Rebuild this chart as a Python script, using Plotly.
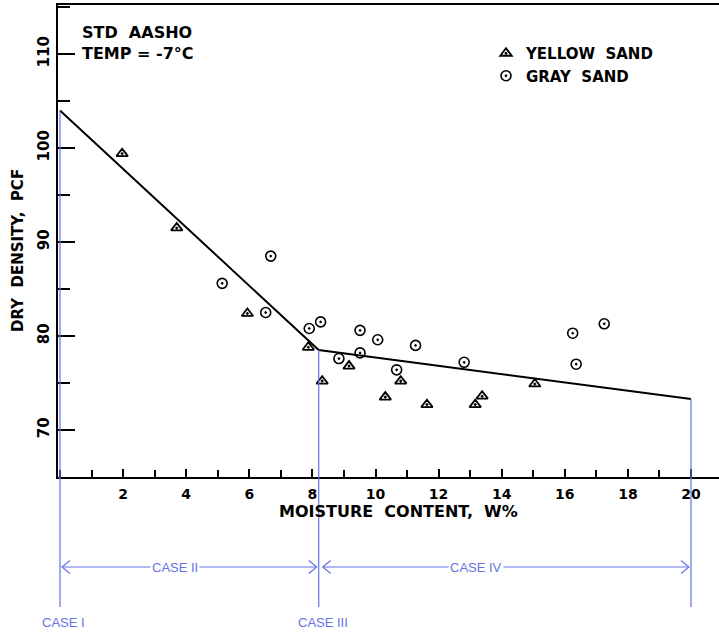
import plotly.graph_objects as go

# ---------------- data ----------------
yellow_x = [1.97, 3.70, 5.94, 7.87, 8.31, 9.16, 10.31, 10.80, 11.63, 13.16, 13.38, 15.05]
yellow_y = [99.4, 91.5, 82.4, 78.8, 75.2, 76.8, 73.5, 75.2, 72.7, 72.7, 73.6, 74.9]

gray_x = [5.14, 6.52, 6.68, 7.90, 8.26, 8.84, 9.51, 9.51, 10.07, 10.67, 11.27, 12.81, 16.25, 16.36, 17.25]
gray_y = [85.6, 82.5, 88.5, 80.8, 81.5, 77.6, 80.6, 78.2, 79.6, 76.4, 79.0, 77.2, 80.3, 77.0, 81.3]

fit_x = [0.0, 8.2, 20.0]
fit_y = [104.0, 78.5, 73.3]

x_ticks = [2, 4, 6, 8, 10, 12, 14, 16, 18, 20]
y_ticks = [70, 80, 90, 100, 110]

case_bounds = [0.0, 8.2, 20.0]

# ---------------- layout geometry ----------------
W, H = 719, 632
ML, MR, MT, MB = 58, 0, 5, 155
PX_PER_X = 31.55
PX_PER_Y = 9.4
X0 = -(60 - ML) / PX_PER_X
X1 = X0 + (W - ML - MR) / PX_PER_X
Y0 = 65.0
Y1 = Y0 + (H - MT - MB) / PX_PER_Y
PLOT_H = H - MT - MB
PLOT_W = W - ML - MR

def py_to_paper(py):
    return (H - MB - py) / PLOT_H

def px_to_paper(px):
    return (px - ML) / PLOT_W

def y_to_paper(y):
    return (y - Y0) / (Y1 - Y0)

BLUE = "#6673e4"
FONT = "DejaVu Sans"
BOLD = "bold"

fig = go.Figure()

fig.add_trace(go.Scatter(
    x=fit_x, y=fit_y, mode="lines",
    line=dict(color="black", width=2), showlegend=False, hoverinfo="skip"))

fig.add_trace(go.Scatter(
    x=yellow_x, y=yellow_y, mode="markers", name="YELLOW  SAND",
    marker=dict(symbol="triangle-up-open-dot", size=10, color="black",
                line=dict(width=1.8, color="black"))))

fig.add_trace(go.Scatter(
    x=gray_x, y=gray_y, mode="markers", name="GRAY  SAND",
    marker=dict(symbol="circle-open-dot", size=10, color="black",
                line=dict(width=1.6, color="black"))))

shapes = []
# blue vertical boundary lines
bottom_paper = py_to_paper(607)
for xb, ystart in zip(case_bounds, fit_y):
    shapes.append(dict(type="line", xref="x", yref="paper",
                       x0=xb, x1=xb, y0=y_to_paper(ystart), y1=bottom_paper,
                       line=dict(color=BLUE, width=1.2), layer="above"))

# horizontal arrows
arrow_y = py_to_paper(567)
dx = 8 / PX_PER_X
dy = 6.5 / PLOT_H
gap = 2 / PX_PER_X
arrow_spans = [(case_bounds[0] + gap, case_bounds[1] - gap),
               (case_bounds[1] + 2 * gap, case_bounds[2] - gap)]
for a, b in arrow_spans:
    shapes.append(dict(type="line", xref="x", yref="paper",
                       x0=a, x1=b, y0=arrow_y, y1=arrow_y,
                       line=dict(color=BLUE, width=1.2)))
    shapes.append(dict(type="path", xref="x", yref="paper",
                       path=f"M {a+dx},{arrow_y+dy} L {a},{arrow_y} L {a+dx},{arrow_y-dy}",
                       line=dict(color=BLUE, width=1.2)))
    shapes.append(dict(type="path", xref="x", yref="paper",
                       path=f"M {b-dx},{arrow_y+dy} L {b},{arrow_y} L {b-dx},{arrow_y-dy}",
                       line=dict(color=BLUE, width=1.2)))

annotations = []
case_font = dict(family="Liberation Sans", size=13, color=BLUE)
for txt, xv, ypx, bg in [("CASE II", 3.64, 567, True), ("CASE IV", 13.2, 567, True),
                         ("CASE I", 0.1, 622, False), ("CASE III", 8.34, 622, False)]:
    annotations.append(dict(text=txt, xref="x", yref="paper", x=xv, y=py_to_paper(ypx),
                            xanchor="center", yanchor="middle", showarrow=False,
                            font=case_font, bgcolor="white" if bg else None, borderpad=1))

text_font = dict(family=FONT, size=16, color="black", weight=BOLD)
# chart notes
annotations.append(dict(text="STD  AASHO", xref="paper", yref="paper",
                        x=px_to_paper(80), y=py_to_paper(32.5),
                        xanchor="left", yanchor="middle", showarrow=False, font=text_font))
annotations.append(dict(text="TEMP = -7°C", xref="paper", yref="paper",
                        x=px_to_paper(80), y=py_to_paper(54),
                        xanchor="left", yanchor="middle", showarrow=False, font=text_font))

# axis titles
annotations.append(dict(text="MOISTURE\u00a0 CONTENT,\u00a0 W%", xref="paper", yref="paper",
                        x=px_to_paper(398), y=py_to_paper(511),
                        xanchor="center", yanchor="middle", showarrow=False, font=text_font))
annotations.append(dict(text="DRY\u00a0 DENSITY,\u00a0 PCF", xref="paper", yref="paper",
                        x=px_to_paper(18), y=py_to_paper(251),
                        xanchor="center", yanchor="middle", showarrow=False, textangle=-90,
                        font=dict(family=FONT, size=15, color="black", weight=BOLD)))

fig.update_layout(
    width=W, height=H,
    margin=dict(l=ML, r=MR, t=MT, b=MB, pad=0),
    paper_bgcolor="white", plot_bgcolor="white",
    font=dict(family=FONT, color="black"),
    shapes=shapes, annotations=annotations,
    legend=dict(x=px_to_paper(486), y=py_to_paper(37),
                xanchor="left", yanchor="top",
                bgcolor="rgba(0,0,0,0)", borderwidth=0,
                font=dict(family=FONT, size=15, color="black", weight=BOLD),
                itemwidth=30, tracegroupgap=0),
    xaxis=dict(range=[X0, X1], showgrid=False, zeroline=False,
               showline=True, linecolor="black", linewidth=2, mirror=True,
               ticks="inside", ticklen=8, tickwidth=2, tickcolor="black",
               tickvals=x_ticks, ticktext=[str(v) for v in x_ticks],
               tickfont=dict(family=FONT, size=14, color="black", weight=BOLD),
               ticklabelstandoff=3,
               minor=dict(dtick=1, tick0=0, ticks="inside", ticklen=7,
                          tickwidth=2, tickcolor="black", showgrid=False)),
    yaxis=dict(range=[Y0, Y1], showgrid=False, zeroline=False,
               showline=True, linecolor="black", linewidth=2,
               ticks="inside", ticklen=17, tickwidth=2, tickcolor="black",
               tickvals=y_ticks, ticktext=[str(v) for v in y_ticks],
               tickangle=-90,
               tickfont=dict(family=FONT, size=15, color="black", weight=BOLD),
               ticklabelstandoff=1,
               minor=dict(dtick=5, tick0=65, ticks="inside", ticklen=12,
                          tickwidth=2, tickcolor="black", showgrid=False)),
)

fig.write_html("out.html")
